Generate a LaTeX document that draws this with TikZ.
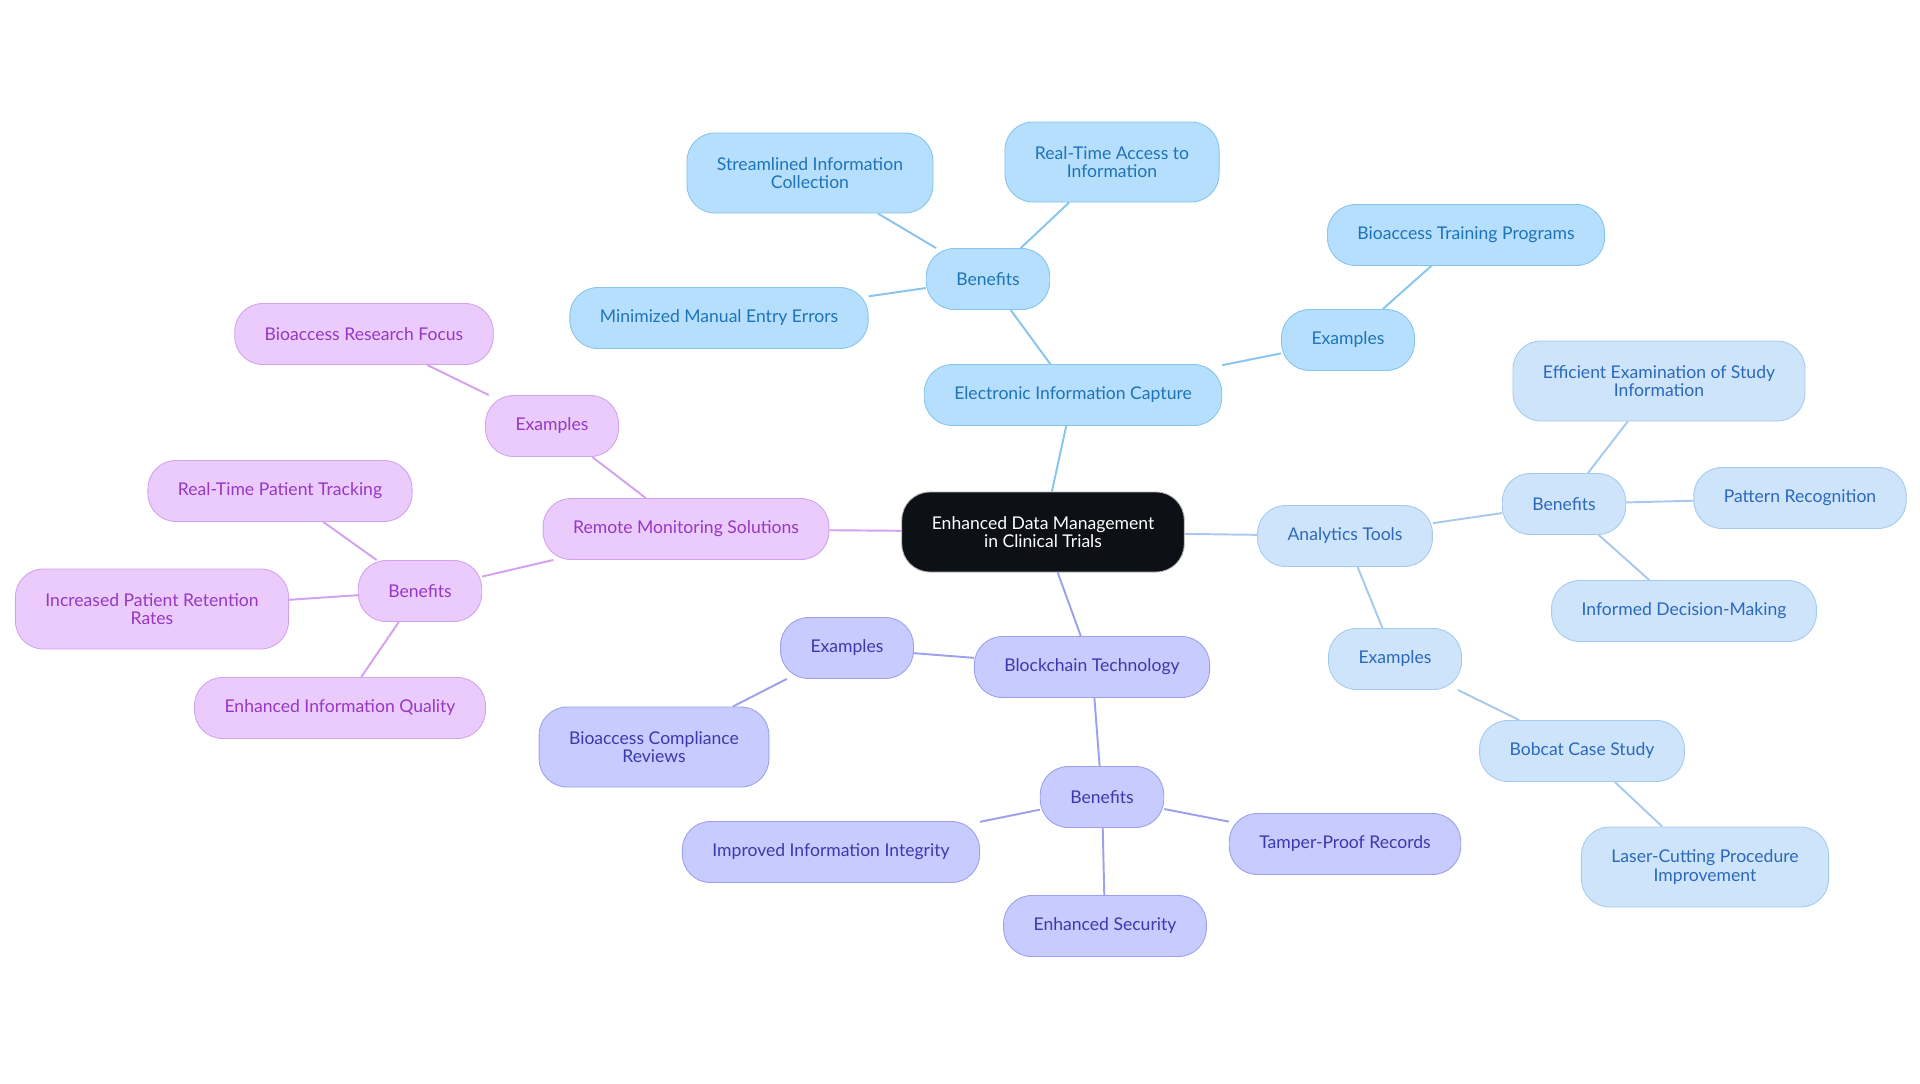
\documentclass[tikz,border=0pt]{standalone}
\usepackage{fontspec}
\setmainfont{Lato}
\usepackage{tikz}
\usetikzlibrary{backgrounds}
\definecolor{rootFill}{HTML}{0D1117}
\definecolor{eicFill}{HTML}{B5DFFC}
\definecolor{eicLine}{HTML}{86C5EE}
\definecolor{eicText}{HTML}{1F73B8}
\definecolor{anaFill}{HTML}{CDE4FA}
\definecolor{anaLine}{HTML}{A6CAEE}
\definecolor{anaText}{HTML}{2C69BC}
\definecolor{blkFill}{HTML}{C8CBFD}
\definecolor{blkLine}{HTML}{9CA0EE}
\definecolor{blkText}{HTML}{3A3AAE}
\definecolor{remFill}{HTML}{EBCBFC}
\definecolor{remLine}{HTML}{D2A2EE}
\definecolor{remText}{HTML}{9538C4}

\begin{document}
\begin{tikzpicture}[
        x=0.02cm, y=-0.02cm,
        box/.style={draw, rounded corners=0.56cm, align=center, minimum height=1.22cm,
                    inner xsep=0.6cm, line width=0.5pt,
                    font=\fontsize{10}{10.5}\selectfont},
        tall/.style={minimum height=1.6cm},
        root/.style={box, fill=rootFill, draw=gray!60, text=white, minimum height=1.6cm},
        eic/.style={box, fill=eicFill, draw=eicLine, text=eicText},
        ana/.style={box, fill=anaFill, draw=anaLine, text=anaText},
        blk/.style={box, fill=blkFill, draw=blkLine, text=blkText},
        rem/.style={box, fill=remFill, draw=remLine, text=remText},
        link/.style={line width=1.1pt}
    ]
        \useasboundingbox (0,0) rectangle (1920,1083);

        \node[root] (root) at (1043,532) {Enhanced Data Management\\in Clinical Trials};

        % electronic capture
        \node[eic] (eic) at (1073,395) {Electronic Information Capture};
        \node[eic] (eicben) at (988,279) {Benefits};
        \node[eic, tall] (eicstream) at (810,173) {Streamlined Information\\Collection};
        \node[eic, tall] (eicreal) at (1112,162) {Real-Time Access to\\Information};
        \node[eic] (eicmin) at (719,318) {Minimized Manual Entry Errors};
        \node[eic] (eicex) at (1348,340) {Examples};
        \node[eic] (eictrain) at (1466,235) {Bioaccess Training Programs};

        % analytics
        \node[ana] (ana) at (1345,536) {Analytics Tools};
        \node[ana] (anaben) at (1564,504) {Benefits};
        \node[ana, tall] (anaeff) at (1659,381) {Efficient Examination of Study\\Information};
        \node[ana] (anapat) at (1800,498) {Pattern Recognition};
        \node[ana] (anainf) at (1684,611) {Informed Decision-Making};
        \node[ana] (anaex) at (1395,659) {Examples};
        \node[ana] (anabob) at (1582,751) {Bobcat Case Study};
        \node[ana, tall] (analaser) at (1705,867) {Laser-Cutting Procedure\\Improvement};

        % blockchain
        \node[blk] (blk) at (1092,667) {Blockchain Technology};
        \node[blk] (blkex) at (847,648) {Examples};
        \node[blk, tall] (blkrev) at (654,747) {Bioaccess Compliance\\Reviews};
        \node[blk] (blkben) at (1102,797) {Benefits};
        \node[blk] (blkint) at (831,852) {Improved Information Integrity};
        \node[blk] (blktamp) at (1345,844) {Tamper-Proof Records};
        \node[blk] (blksec) at (1105,926) {Enhanced Security};

        % remote monitoring
        \node[rem] (rem) at (686,529) {Remote Monitoring Solutions};
        \node[rem] (remex) at (552,426) {Examples};
        \node[rem] (remfocus) at (364,334) {Bioaccess Research Focus};
        \node[rem] (remben) at (420,591) {Benefits};
        \node[rem] (remtrack) at (280,491) {Real-Time Patient Tracking};
        \node[rem, tall] (remret) at (152,609) {Increased Patient Retention\\Rates};
        \node[rem] (remqual) at (340,708) {Enhanced Information Quality};

        \begin{scope}[on background layer]
            \draw[link, eicLine] (root) -- (eic) (eic) -- (eicben) (eicben) -- (eicstream)
                (eicben) -- (eicreal) (eicben) -- (eicmin) (eic) -- (eicex) (eicex) -- (eictrain);
            \draw[link, anaLine] (root) -- (ana) (ana) -- (anaben) (anaben) -- (anaeff)
                (anaben) -- (anapat) (anaben) -- (anainf) (ana) -- (anaex) (anaex) -- (anabob)
                (anabob) -- (analaser);
            \draw[link, blkLine] (root) -- (blk) (blk) -- (blkex) (blkex) -- (blkrev)
                (blk) -- (blkben) (blkben) -- (blkint) (blkben) -- (blktamp) (blkben) -- (blksec);
            \draw[link, remLine] (root) -- (rem) (rem) -- (remex) (remex) -- (remfocus)
                (rem) -- (remben) (remben) -- (remtrack) (remben) -- (remret) (remben) -- (remqual);
        \end{scope}
    \end{tikzpicture}
\end{document}
